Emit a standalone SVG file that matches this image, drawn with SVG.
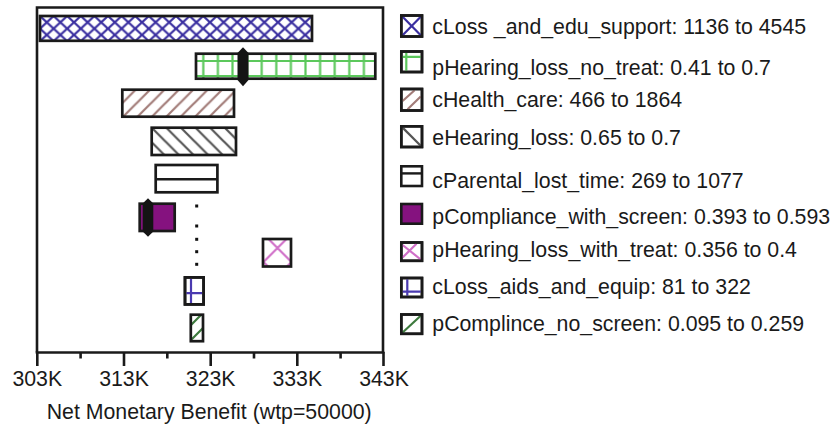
<svg xmlns="http://www.w3.org/2000/svg" width="834" height="427" viewBox="0 0 834 427">
  <style>
    text { font-family: "Liberation Sans", Arial, Helvetica, sans-serif; font-size: 21.3px; fill: #1a1a1a; }
    .bar { stroke: #1a1a1a; stroke-width: 2.7; }
    .box { stroke: #1a1a1a; stroke-width: 2.6; }
    .frame { fill: none; stroke: #1a1a1a; stroke-width: 2.6; }
    .tick { stroke: #1a1a1a; stroke-width: 2.6; }
    .tick-label { text-anchor: middle; }
    .marker { fill: #141414; }
    .dot { fill: #111; }
    .hl { fill: none; stroke-width: 2.2; }
  </style>
  <defs>
    <!-- diagonal crosshatch, blue -->
    <pattern id="pat-cross-blue" patternUnits="userSpaceOnUse" x="40" y="16" width="13.6" height="12.6">
      <rect width="13.6" height="12.6" fill="#fff"/>
      <path d="M0,0 L13.6,12.6 M13.6,0 L0,12.6" stroke="#3a2fa0" stroke-width="2.2" fill="none"/>
    </pattern>
    <!-- square grid, green -->
    <pattern id="pat-grid-green" patternUnits="userSpaceOnUse" x="196" y="53" width="14.6" height="15">
      <rect width="14.6" height="15" fill="#fff"/>
      <path d="M7.3,0 V15 M0,8 H14.6" stroke="#5cc85c" stroke-width="2.2" fill="none"/>
    </pattern>
    <!-- forward hatch, brown -->
    <pattern id="pat-fwd-brown" patternUnits="userSpaceOnUse" x="122" y="89" width="14.4" height="14.4">
      <rect width="14.4" height="14.4" fill="#fff"/>
      <path d="M-2,2 L2,-2 M0,14.4 L14.4,0 M12.4,16.4 L16.4,12.4" stroke="#a27c78" stroke-width="2.2" fill="none"/>
    </pattern>
    <!-- back hatch, grey -->
    <pattern id="pat-back-grey" patternUnits="userSpaceOnUse" x="151" y="127" width="14.6" height="14.6">
      <rect width="14.6" height="14.6" fill="#fff"/>
      <path d="M-2,12.6 L2,16.6 M0,0 L14.6,14.6 M12.6,-2 L16.6,2" stroke="#555" stroke-width="2.2" fill="none"/>
    </pattern>
    <!-- wide crosshatch, pink -->
    <pattern id="pat-cross-pink" patternUnits="userSpaceOnUse" x="263.5" y="234" width="28" height="28">
      <rect width="28" height="28" fill="#fff"/>
      <path d="M0,0 L28,28 M28,0 L0,28" stroke="#d070c8" stroke-width="2.2" fill="none"/>
    </pattern>
    <!-- forward hatch, dark green -->
    <pattern id="pat-fwd-green" patternUnits="userSpaceOnUse" x="189" y="312" width="15" height="15">
      <rect width="15" height="15" fill="#fff"/>
      <path d="M-2,2 L2,-2 M0,15 L15,0 M13,17 L17,13" stroke="#3d7a3d" stroke-width="2.2" fill="none"/>
    </pattern>
  </defs>

  <!-- plot frame -->
  <g id="frame">
    <path class="frame" d="M37,352.5 V7.5 H383 V352.5"/>
    <line class="tick" x1="35.7" y1="352.5" x2="384.3" y2="352.5"/>
  </g>

  <!-- x axis ticks and labels -->
  <g id="x-axis">
    <line class="tick" x1="37.3" y1="352" x2="37.3" y2="366"/>
    <line class="tick" x1="80.6" y1="352" x2="80.6" y2="358.5"/>
    <line class="tick" x1="124" y1="352" x2="124" y2="366"/>
    <line class="tick" x1="167.3" y1="352" x2="167.3" y2="358.5"/>
    <line class="tick" x1="210.7" y1="352" x2="210.7" y2="366"/>
    <line class="tick" x1="254" y1="352" x2="254" y2="358.5"/>
    <line class="tick" x1="297.3" y1="352" x2="297.3" y2="366"/>
    <line class="tick" x1="340.6" y1="352" x2="340.6" y2="358.5"/>
    <line class="tick" x1="383.5" y1="352" x2="383.5" y2="366"/>
    <text class="tick-label" x="37.3" y="385.7">303K</text>
    <text class="tick-label" x="124" y="385.7">313K</text>
    <text class="tick-label" x="210.7" y="385.7">323K</text>
    <text class="tick-label" x="297.3" y="385.7">333K</text>
    <text class="tick-label" x="384" y="385.7">343K</text>
    <text x="209.2" y="419" text-anchor="middle">Net Monetary Benefit (wtp=50000)</text>
  </g>

  <!-- tornado bars -->
  <g id="bar-cLoss-edu">
    <rect class="bar" x="40" y="16" width="272" height="24.8" fill="url(#pat-cross-blue)"/>
  </g>
  <g id="bar-pHearing-no-treat">
    <rect class="bar" x="196" y="53.7" width="179.3" height="25" fill="url(#pat-grid-green)"/>
    <path class="marker" d="M243,47.3 L248.5,53 V80 L243,86.2 L237.5,80 V53 Z"/>
  </g>
  <g id="bar-cHealth-care">
    <rect class="bar" x="122.3" y="89.7" width="111.7" height="27" fill="url(#pat-fwd-brown)"/>
  </g>
  <g id="bar-eHearing-loss">
    <rect class="bar" x="151.7" y="127.7" width="84.3" height="27.3" fill="url(#pat-back-grey)"/>
  </g>
  <g id="bar-cParental">
    <rect class="bar" x="155.7" y="165" width="61.7" height="27.3" fill="#fff"/>
    <line x1="155.7" y1="179.3" x2="217.4" y2="179.3" stroke="#1a1a1a" stroke-width="2.4"/>
  </g>
  <g id="bar-pCompliance-screen">
    <rect class="bar" x="139.7" y="203.7" width="35" height="27.3" fill="#85127f"/>
    <path class="marker" d="M148,198.3 L153.3,203.5 V231.5 L148,236.7 L142.7,231.5 V203.5 Z"/>
  </g>
  <g id="baseline-dots">
    <rect class="dot" x="195.2" y="204.5" width="3" height="3"/>
    <rect class="dot" x="195.2" y="224.5" width="3" height="3"/>
    <rect class="dot" x="195.2" y="237.8" width="3" height="3"/>
    <rect class="dot" x="195.2" y="250.2" width="3" height="3"/>
    <rect class="dot" x="195.2" y="262.8" width="3" height="3"/>
  </g>
  <g id="bar-pHearing-with-treat">
    <rect class="bar" x="263" y="239" width="28" height="27.5" fill="url(#pat-cross-pink)"/>
  </g>
  <g id="bar-cLoss-aids">
    <rect class="bar" x="185" y="277.4" width="18.6" height="27" fill="#fff"/>
    <path class="hl" d="M191,278.7 V303 M186.3,293.2 H202.3" stroke="#4a3ab0"/>
    <rect x="185" y="277.4" width="18.6" height="27" fill="none" class="bar"/>
  </g>
  <g id="bar-pComplince-no-screen">
    <rect class="bar" x="190.8" y="314.7" width="12.2" height="26.5" fill="url(#pat-fwd-green)"/>
  </g>

  <!-- legend -->
  <g id="legend">
    <g id="legend-1">
      <rect class="box" x="401.3" y="15.5" width="20.7" height="21" fill="#fff"/>
      <path class="hl" d="M402.6,16.8 L420.7,35.2 M420.7,16.8 L402.6,35.2" stroke="#3a2fa0"/>
      <rect class="box" x="401.3" y="15.5" width="20.7" height="21" fill="none"/>
      <text x="432.3" y="33.5">cLoss _and_edu_support: 1136 to 4545</text>
    </g>
    <g id="legend-2">
      <rect class="box" x="401.3" y="51.5" width="20.7" height="20.5" fill="#fff"/>
      <path class="hl" d="M406.3,52.8 V70.7 M402.6,56.8 H420.7" stroke="#5cc85c"/>
      <rect class="box" x="401.3" y="51.5" width="20.7" height="20.5" fill="none"/>
      <text x="432.3" y="75.3">pHearing_loss_no_treat: 0.41 to 0.7</text>
    </g>
    <g id="legend-3">
      <rect class="box" x="401.3" y="89" width="20.7" height="21.5" fill="#fff"/>
      <path class="hl" d="M402.6,101 L414.6,90.3 M407.6,109.2 L420.7,96.5" stroke="#a27c78"/>
      <rect class="box" x="401.3" y="89" width="20.7" height="21.5" fill="none"/>
      <text x="432.3" y="106.5">cHealth_care: 466 to 1864</text>
    </g>
    <g id="legend-4">
      <rect class="box" x="401.3" y="126.3" width="20.7" height="20.7" fill="#fff"/>
      <path class="hl" d="M402.6,127.6 L420.7,145.7" stroke="#555"/>
      <rect class="box" x="401.3" y="126.3" width="20.7" height="20.7" fill="none"/>
      <text x="432.3" y="144.5">eHearing_loss: 0.65 to 0.7</text>
    </g>
    <g id="legend-5">
      <rect class="box" x="401.3" y="166.3" width="20.7" height="19.7" fill="#fff"/>
      <line x1="401.3" y1="173.4" x2="422" y2="173.4" stroke="#1a1a1a" stroke-width="2.4"/>
      <text x="432.3" y="187.5">cParental_lost_time: 269 to 1077</text>
    </g>
    <g id="legend-6">
      <rect class="box" x="401.3" y="204" width="20.7" height="19.7" fill="#85127f"/>
      <text x="432.3" y="223.5">pCompliance_with_screen: 0.393 to 0.593</text>
    </g>
    <g id="legend-7">
      <rect class="box" x="401.3" y="242.5" width="20.7" height="18.3" fill="#fff"/>
      <path class="hl" d="M402.6,245 L420.7,259.5 M402.6,257.5 L416.5,243.8" stroke="#d070c8"/>
      <rect class="box" x="401.3" y="242.5" width="20.7" height="18.3" fill="none"/>
      <text x="432.3" y="257">pHearing_loss_with_treat: 0.356 to 0.4</text>
    </g>
    <g id="legend-8">
      <rect class="box" x="401.3" y="278" width="20.7" height="19" fill="#fff"/>
      <path class="hl" d="M407.3,279.3 V295.7 M402.6,291.7 H420.7" stroke="#4a3ab0"/>
      <rect class="box" x="401.3" y="278" width="20.7" height="19" fill="none"/>
      <text x="432.3" y="293.5">cLoss_aids_and_equip: 81 to 322</text>
    </g>
    <g id="legend-9">
      <rect class="box" x="401.3" y="314.5" width="20.7" height="19.3" fill="#fff"/>
      <path class="hl" d="M402.6,332.5 L420.7,315.8" stroke="#3d7a3d"/>
      <rect class="box" x="401.3" y="314.5" width="20.7" height="19.3" fill="none"/>
      <text x="432.3" y="331">pComplince_no_screen: 0.095 to 0.259</text>
    </g>
  </g>
</svg>
